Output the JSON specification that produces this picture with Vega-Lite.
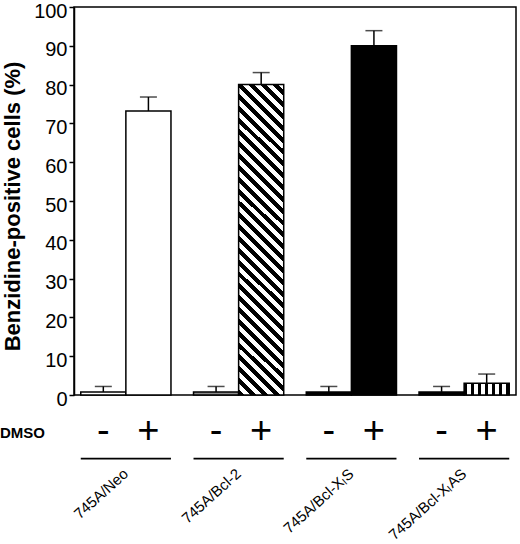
{
  "$schema": "https://vega.github.io/schema/vega-lite/v6.json",
  "width": 442,
  "height": 388,
  "autosize": "none",
  "padding": {"left": 74, "top": 7, "right": 4, "bottom": 149},
  "background": "white",
  "data": {
    "values": [
      {"line": "745A/Neo", "dmso": "-", "value": 0.8, "upper": 2.2},
      {"line": "745A/Neo", "dmso": "+", "value": 73.2, "upper": 76.8},
      {"line": "745A/Bcl-2", "dmso": "-", "value": 0.8, "upper": 2.2},
      {"line": "745A/Bcl-2", "dmso": "+", "value": 80, "upper": 83.1},
      {"line": "745A/Bcl-XₗS", "dmso": "-", "value": 0.8, "upper": 2.2},
      {"line": "745A/Bcl-XₗS", "dmso": "+", "value": 90, "upper": 93.9},
      {"line": "745A/Bcl-XₗAS", "dmso": "-", "value": 0.8, "upper": 2.2},
      {"line": "745A/Bcl-XₗAS", "dmso": "+", "value": 3, "upper": 5.4}
    ]
  },
  "encoding": {
    "x": {
      "field": "line",
      "type": "nominal",
      "sort": null,
      "scale": {"paddingInner": 0.2, "paddingOuter": 0.06},
      "axis": {
        "orient": "bottom",
        "offset": 65,
        "domain": false,
        "ticks": false,
        "labelAngle": -42,
        "labelAlign": "right",
        "labelBaseline": "middle",
        "labelFontSize": 15,
        "labelPadding": 11,
        "labelLimit": 300,
        "title": "DMSO",
        "titleFontSize": 15,
        "titleFontWeight": "bold",
        "titleX": -52,
        "titleY": -28,
        "titleAlign": "center",
        "titleBaseline": "middle",
        "titleAngle": 0
      }
    },
    "y": {
      "type": "quantitative",
      "scale": {"domain": [0, 100], "nice": false},
      "axis": {
        "values": [0, 10, 20, 30, 40, 50, 60, 70, 80, 90, 100],
        "title": "Benzidine-positive cells (%)",
        "titleFontSize": 22,
        "titleFontWeight": "bold",
        "titlePadding": 9,
        "titleY": 199,
        "labelFontSize": 20,
        "labelPadding": 2,
        "labelOffset": 4,
        "labelFlush": false,
        "labelOverlap": false,
        "tickSize": 5,
        "tickWidth": 1.5,
        "domainWidth": 1.5
      }
    }
  },
  "layer": [
    {
      "mark": {"type": "bar", "stroke": "black", "strokeWidth": 1.5},
      "encoding": {
        "xOffset": {"field": "dmso", "sort": ["-", "+"], "scale": {"domain": ["-", "+"], "paddingInner": 0, "paddingOuter": 0}},
        "y": {"field": "value", "title": "Benzidine-positive cells (%)"},
        "fill": {
          "condition": [
            {
              "test": "datum.line == '745A/Bcl-2' && datum.dmso == '+'",
              "value": {
                "gradient": "linear",
                "x1": 0, "y1": 1, "x2": 0.1618, "y2": -0.121,
                "stops": [
                  {"offset": 0, "color": "#000"},
                  {"offset": 0.01667, "color": "#000"}, {"offset": 0.01667, "color": "#fff"},
                  {"offset": 0.03333, "color": "#fff"}, {"offset": 0.03333, "color": "#000"},
                  {"offset": 0.05, "color": "#000"}, {"offset": 0.05, "color": "#fff"},
                  {"offset": 0.06667, "color": "#fff"}, {"offset": 0.06667, "color": "#000"},
                  {"offset": 0.08333, "color": "#000"}, {"offset": 0.08333, "color": "#fff"},
                  {"offset": 0.1, "color": "#fff"}, {"offset": 0.1, "color": "#000"},
                  {"offset": 0.11667, "color": "#000"}, {"offset": 0.11667, "color": "#fff"},
                  {"offset": 0.13333, "color": "#fff"}, {"offset": 0.13333, "color": "#000"},
                  {"offset": 0.15, "color": "#000"}, {"offset": 0.15, "color": "#fff"},
                  {"offset": 0.16667, "color": "#fff"}, {"offset": 0.16667, "color": "#000"},
                  {"offset": 0.18333, "color": "#000"}, {"offset": 0.18333, "color": "#fff"},
                  {"offset": 0.2, "color": "#fff"}, {"offset": 0.2, "color": "#000"},
                  {"offset": 0.21667, "color": "#000"}, {"offset": 0.21667, "color": "#fff"},
                  {"offset": 0.23333, "color": "#fff"}, {"offset": 0.23333, "color": "#000"},
                  {"offset": 0.25, "color": "#000"}, {"offset": 0.25, "color": "#fff"},
                  {"offset": 0.26667, "color": "#fff"}, {"offset": 0.26667, "color": "#000"},
                  {"offset": 0.28333, "color": "#000"}, {"offset": 0.28333, "color": "#fff"},
                  {"offset": 0.3, "color": "#fff"}, {"offset": 0.3, "color": "#000"},
                  {"offset": 0.31667, "color": "#000"}, {"offset": 0.31667, "color": "#fff"},
                  {"offset": 0.33333, "color": "#fff"}, {"offset": 0.33333, "color": "#000"},
                  {"offset": 0.35, "color": "#000"}, {"offset": 0.35, "color": "#fff"},
                  {"offset": 0.36667, "color": "#fff"}, {"offset": 0.36667, "color": "#000"},
                  {"offset": 0.38333, "color": "#000"}, {"offset": 0.38333, "color": "#fff"},
                  {"offset": 0.4, "color": "#fff"}, {"offset": 0.4, "color": "#000"},
                  {"offset": 0.41667, "color": "#000"}, {"offset": 0.41667, "color": "#fff"},
                  {"offset": 0.43333, "color": "#fff"}, {"offset": 0.43333, "color": "#000"},
                  {"offset": 0.45, "color": "#000"}, {"offset": 0.45, "color": "#fff"},
                  {"offset": 0.46667, "color": "#fff"}, {"offset": 0.46667, "color": "#000"},
                  {"offset": 0.48333, "color": "#000"}, {"offset": 0.48333, "color": "#fff"},
                  {"offset": 0.5, "color": "#fff"}, {"offset": 0.5, "color": "#000"},
                  {"offset": 0.51667, "color": "#000"}, {"offset": 0.51667, "color": "#fff"},
                  {"offset": 0.53333, "color": "#fff"}, {"offset": 0.53333, "color": "#000"},
                  {"offset": 0.55, "color": "#000"}, {"offset": 0.55, "color": "#fff"},
                  {"offset": 0.56667, "color": "#fff"}, {"offset": 0.56667, "color": "#000"},
                  {"offset": 0.58333, "color": "#000"}, {"offset": 0.58333, "color": "#fff"},
                  {"offset": 0.6, "color": "#fff"}, {"offset": 0.6, "color": "#000"},
                  {"offset": 0.61667, "color": "#000"}, {"offset": 0.61667, "color": "#fff"},
                  {"offset": 0.63333, "color": "#fff"}, {"offset": 0.63333, "color": "#000"},
                  {"offset": 0.65, "color": "#000"}, {"offset": 0.65, "color": "#fff"},
                  {"offset": 0.66667, "color": "#fff"}, {"offset": 0.66667, "color": "#000"},
                  {"offset": 0.68333, "color": "#000"}, {"offset": 0.68333, "color": "#fff"},
                  {"offset": 0.7, "color": "#fff"}, {"offset": 0.7, "color": "#000"},
                  {"offset": 0.71667, "color": "#000"}, {"offset": 0.71667, "color": "#fff"},
                  {"offset": 0.73333, "color": "#fff"}, {"offset": 0.73333, "color": "#000"},
                  {"offset": 0.75, "color": "#000"}, {"offset": 0.75, "color": "#fff"},
                  {"offset": 0.76667, "color": "#fff"}, {"offset": 0.76667, "color": "#000"},
                  {"offset": 0.78333, "color": "#000"}, {"offset": 0.78333, "color": "#fff"},
                  {"offset": 0.8, "color": "#fff"}, {"offset": 0.8, "color": "#000"},
                  {"offset": 0.81667, "color": "#000"}, {"offset": 0.81667, "color": "#fff"},
                  {"offset": 0.83333, "color": "#fff"}, {"offset": 0.83333, "color": "#000"},
                  {"offset": 0.85, "color": "#000"}, {"offset": 0.85, "color": "#fff"},
                  {"offset": 0.86667, "color": "#fff"}, {"offset": 0.86667, "color": "#000"},
                  {"offset": 0.88333, "color": "#000"}, {"offset": 0.88333, "color": "#fff"},
                  {"offset": 0.9, "color": "#fff"}, {"offset": 0.9, "color": "#000"},
                  {"offset": 0.91667, "color": "#000"}, {"offset": 0.91667, "color": "#fff"},
                  {"offset": 0.93333, "color": "#fff"}, {"offset": 0.93333, "color": "#000"},
                  {"offset": 0.95, "color": "#000"}, {"offset": 0.95, "color": "#fff"},
                  {"offset": 0.96667, "color": "#fff"}, {"offset": 0.96667, "color": "#000"},
                  {"offset": 0.98333, "color": "#000"}, {"offset": 0.98333, "color": "#fff"},
                  {"offset": 1, "color": "#fff"}
                ]
              }
            },
            {
              "test": "datum.line == '745A/Bcl-XₗAS' && datum.dmso == '+'",
              "value": {
                "gradient": "linear",
                "x1": 0, "y1": 0, "x2": 1, "y2": 0,
                "stops": [
                  {"offset": 0, "color": "#000"},
                  {"offset": 0.065, "color": "#000"}, {"offset": 0.065, "color": "#fff"},
                  {"offset": 0.15583, "color": "#fff"}, {"offset": 0.15583, "color": "#000"},
                  {"offset": 0.22083, "color": "#000"}, {"offset": 0.22083, "color": "#fff"},
                  {"offset": 0.31167, "color": "#fff"}, {"offset": 0.31167, "color": "#000"},
                  {"offset": 0.37667, "color": "#000"}, {"offset": 0.37667, "color": "#fff"},
                  {"offset": 0.4675, "color": "#fff"}, {"offset": 0.4675, "color": "#000"},
                  {"offset": 0.5325, "color": "#000"}, {"offset": 0.5325, "color": "#fff"},
                  {"offset": 0.62333, "color": "#fff"}, {"offset": 0.62333, "color": "#000"},
                  {"offset": 0.68833, "color": "#000"}, {"offset": 0.68833, "color": "#fff"},
                  {"offset": 0.77917, "color": "#fff"}, {"offset": 0.77917, "color": "#000"},
                  {"offset": 0.84417, "color": "#000"}, {"offset": 0.84417, "color": "#fff"},
                  {"offset": 0.935, "color": "#fff"}, {"offset": 0.935, "color": "#000"},
                  {"offset": 1, "color": "#000"}
                ]
              }
            },
            {"test": "datum.line == '745A/Bcl-2'", "value": "#8c8c8c"},
            {"test": "datum.line == '745A/Bcl-XₗS' || datum.line == '745A/Bcl-XₗAS'", "value": "#000"}
          ],
          "value": "#fff"
        }
      }
    },
    {
      "mark": {"type": "rule", "color": "black", "strokeWidth": 1.5},
      "encoding": {
        "xOffset": {"field": "dmso", "sort": ["-", "+"], "scale": {"domain": ["-", "+"], "paddingInner": 0, "paddingOuter": 0}},
        "y": {"field": "value", "title": "Benzidine-positive cells (%)"},
        "y2": {"field": "upper"}
      }
    },
    {
      "mark": {"type": "tick", "color": "black", "size": 17, "thickness": 1.5, "orient": "horizontal"},
      "encoding": {
        "xOffset": {"field": "dmso", "sort": ["-", "+"], "scale": {"domain": ["-", "+"], "paddingInner": 0, "paddingOuter": 0}},
        "y": {"field": "upper", "title": "Benzidine-positive cells (%)"}
      }
    },
    {
      "mark": {"type": "text", "fontSize": 38, "font": "Liberation Sans", "color": "black", "align": "center", "baseline": "middle"},
      "encoding": {
        "xOffset": {"field": "dmso", "sort": ["-", "+"], "scale": {"domain": ["-", "+"], "paddingInner": 0, "paddingOuter": 0}},
        "y": {"datum": -9.5, "title": "Benzidine-positive cells (%)"},
        "text": {"field": "dmso"}
      }
    },
    {
      "transform": [{"filter": "datum.dmso == '+'"}],
      "mark": {"type": "bar", "color": "black"},
      "encoding": {
        "y": {"datum": -16.2, "title": "Benzidine-positive cells (%)"},
        "y2": {"datum": -16.65}
      }
    }
  ],
  "config": {
    "font": "Liberation Sans",
    "view": {"stroke": "black", "strokeWidth": 1.5},
    "axis": {
      "grid": false,
      "labelColor": "black",
      "titleColor": "black",
      "domainColor": "black",
      "tickColor": "black",
      "labelFont": "Liberation Sans",
      "titleFont": "Liberation Sans"
    }
  }
}
